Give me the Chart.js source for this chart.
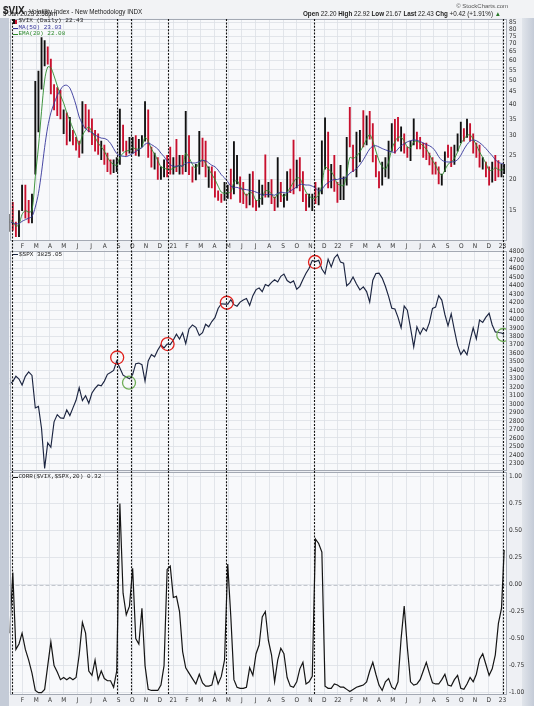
<!DOCTYPE html>
<html><head><meta charset="utf-8">
<script src="https://cdn.jsdelivr.net/npm/chart.js@4.4.0/dist/chart.umd.min.js"></script>
<style>
html,body{margin:0;padding:0;}
body{width:534px;height:706px;position:relative;overflow:hidden;background:#eef0f4;font-family:"Liberation Sans",Arial,sans-serif;}
.blk{position:absolute;}
#hdr{left:0;top:0;width:534px;height:18px;background:#f2f3f5;}
#lstrip{left:0;top:18px;width:9px;height:688px;background:#c4cbd7;}
#rstrip{left:522px;top:18px;width:12px;height:688px;background:linear-gradient(90deg,#e1e5eb,#c4cbd7);}
canvas{position:absolute;left:0;}
.t{position:absolute;white-space:nowrap;line-height:1;color:#222;}
.mono{font-family:"Liberation Mono","DejaVu Sans Mono",monospace;font-size:6px;}
.sw{position:absolute;height:0;border-top:1px solid;width:5px;}
</style></head><body>
<div id="hdr" class="blk"></div>
<div id="lstrip" class="blk"></div>
<div id="rstrip" class="blk"></div>
<canvas id="cA" width="534" height="250" style="top:0px"></canvas>
<canvas id="cB" width="534" height="227" style="top:244px"></canvas>
<canvas id="cC" width="534" height="235" style="top:471px"></canvas>

<div class="t" style="left:3px;top:0.5px;"><b style="font-size:10px;">$VIX</b> <span style="font-size:6.3px;">Volatility Index - New Methodology INDX</span></div>
<div class="t" style="left:3px;top:11px;font-size:6.3px;">5 Jan 2023 2:58pm</div>
<div class="t" style="right:26px;top:3px;font-size:6px;color:#555;">© StockCharts.com</div>
<div class="t" style="right:33px;top:11px;font-size:6.3px;"><b>Open</b> 22.20 <b>High</b> 22.92 <b>Low</b> 21.67 <b>Last</b> 22.43 <b>Chg</b> +0.42 (+1.91%) <span style="color:#2a7a2a">▲</span></div>

<div class="blk" style="left:13px;top:18.5px;width:2px;height:5px;background:#111;"></div>
<div class="blk" style="left:15px;top:19.5px;width:2px;height:4px;background:#c8102e;"></div>
<div class="t mono" style="left:18.5px;top:18px;">$VIX (Daily) 22.43</div>
<div class="sw" style="left:12.5px;top:28px;border-color:#34349a;"></div>
<div class="t mono" style="left:18.5px;top:25.3px;color:#34349a;">MA(50) 23.03</div>
<div class="sw" style="left:12.5px;top:34px;border-color:#2d8a2d;"></div>
<div class="t mono" style="left:18.5px;top:31.3px;color:#2d8a2d;">EMA(20) 22.08</div>
<div class="sw" style="left:12.5px;top:254px;border-color:#1c2541;"></div>
<div class="t mono" style="left:19px;top:251.5px;">$SPX 3825.05</div>
<div class="sw" style="left:12.5px;top:476.5px;border-color:#111;"></div>
<div class="t mono" style="left:18.5px;top:473.7px;">CORR($VIX,$SPX,20) 0.32</div>

<script>
// ---------- DATA ----------
// weekly sessions (Fridays) from 3 Jan 2020, last point 5 Jan 2023
const weekDates = [];
{ const d0 = Date.UTC(2020,0,3); for (let i=0;i<157;i++){ weekDates.push(new Date(d0+i*7*86400000).toISOString().slice(0,10)); } weekDates.push('2023-01-05'); }

const vixHigh = [
14.5,16.2,13.5,15.0,19.0, 19.0,16.5,17.5,49.5, 54.4,74.0,72.0,68.0, 60.7,48.0,46.7,45.6, 38.0,37.0,35.5,31.5,29.5, 28.5,41.0,40.0,38.0, 35.0,31.5,30.5,28.5,27.5, 25.5,24.0,24.0,24.5, 38.3,33.0,28.5,29.5, 29.5,30.0,29.0,30.0,41.0, 38.0,27.0,25.5,24.5, 22.5,24.0,25.0,27.0,24.5,
29.0,25.0,25.0,37.5, 30.0,22.5,23.0,31.2, 29.3,28.5,22.5,22.5, 21.5,18.0,17.5,19.5,19.0, 22.0,28.4,25.0,20.5, 19.5,17.5,21.0,21.5, 16.5,19.9,19.0,25.1,19.5, 20.0,17.0,24.5,19.5, 17.5,21.5,22.0,28.8, 23.9,24.5,21.5,17.5,17.5, 17.5,19.5,18.5,28.6, 35.3,31.0,23.0,25.0,19.5,
22.8,20.5,29.5,38.9, 27.5,31.0,31.5,37.8, 36.0,37.5,33.5,25.0, 21.5,23.5,24.5,28.5,33.5, 34.8,35.5,32.5,30.5, 27.0,28.5,35.0,31.0, 29.5,28.0,28.0,25.5,24.5, 23.5,22.5,21.0,25.8, 27.5,27.0,27.5,30.5,34.0, 32.0,34.9,33.5,30.5, 28.0,27.5,24.5,23.5, 22.5,23.5,25.0,23.8,23.0,
23.0];
const vixLow = [
12.4,12.5,11.8,11.8,15.0, 14.0,13.4,13.4,21.0, 31.0,46.0,57.0,58.0, 44.0,38.0,36.0,35.0, 30.5,27.5,28.5,27.5,26.2, 24.5,25.5,32.0,31.0, 27.6,26.0,25.2,24.0,23.0, 21.5,21.0,21.3,21.5, 23.0,26.0,25.0,25.5, 25.5,25.0,24.8,27.0,28.5, 24.5,22.4,22.0,20.0, 20.0,20.5,20.5,21.0,21.0,
21.5,21.0,21.0,21.5, 20.9,19.5,19.9,21.0, 22.5,20.5,18.6,18.5, 17.0,16.5,16.2,16.5,16.8, 16.7,17.5,19.2,16.2, 16.0,15.4,15.8,15.5, 15.0,15.5,15.9,17.0,17.0, 16.0,15.0,15.5,16.3, 15.5,16.5,17.7,17.5, 18.5,18.0,16.3,15.0,15.5, 15.0,16.0,15.8,17.5, 22.0,18.5,18.5,17.9,16.2,
16.6,16.6,19.0,27.0, 21.5,20.5,23.5,27.0, 27.5,29.0,23.5,20.5, 18.5,19.0,20.5,20.2,26.0, 25.5,28.5,26.0,25.5, 24.5,23.8,27.5,26.5, 26.5,24.5,24.0,22.9,21.0, 21.0,19.2,19.0,21.5, 24.5,22.5,23.0,26.0,28.0, 28.5,29.5,28.5,25.5, 24.5,22.4,22.0,20.5, 19.0,19.5,19.8,20.5,20.5,
21.1];
const vixClose = [
14.0,12.6,12.1,14.6,18.8, 15.5,13.7,17.1,40.1, 41.9,57.8,66.0,65.5, 46.8,41.7,38.2,35.9, 37.2,27.9,31.9,28.2,27.5, 24.5,36.1,35.1,34.7, 27.7,27.3,25.7,25.8,24.5, 22.2,22.1,22.5,22.9, 30.8,26.9,25.8,26.4, 27.6,25.0,27.4,27.6,38.0, 24.9,23.1,23.7,20.8, 20.8,23.3,21.6,21.5,22.8,
21.6,24.3,21.9,33.1, 20.9,20.0,22.1,27.9, 24.7,20.7,21.0,18.9, 17.3,16.7,16.3,17.3,18.6, 16.7,18.8,20.2,16.8, 16.4,15.7,20.7,15.6, 15.1,16.2,18.5,17.2,18.2, 16.2,15.5,18.6,16.4, 16.4,21.0,20.8,17.8, 21.2,18.8,16.3,15.0,16.3, 16.5,16.3,17.9,28.6, 30.7,18.7,21.6,18.0,17.2,
18.8,19.2,28.9,27.7, 23.2,27.4,27.8,27.6, 32.0,30.8,23.9,20.8, 19.6,21.2,22.7,28.2,33.4, 30.2,28.9,29.4,25.7, 24.8,27.8,31.1,27.2, 26.7,24.6,24.2,23.0,21.3, 21.2,19.5,20.6,25.6, 25.5,22.8,26.3,29.9,31.6, 31.4,32.0,29.7,25.8, 24.6,22.5,23.1,20.5, 19.1,22.8,22.6,20.9,21.7,
22.4];
const vixMA50 = [
13.5,13.4,13.3,13.3,13.6, 13.8,14.0,14.2,15.5, 17.6,21.4,26.9,32.5, 37.0,40.3,43.4,45.8, 47.5,47.7,46.5,43.4,39.7, 35.6,33.4,31.9,31.3, 30.8,30.2,29.7,29.3,29.2, 28.8,27.9,26.6,25.4, 24.9,24.8,24.7,25.0, 25.4,25.9,26.4,26.8,27.7, 28.0,27.6,27.1,26.5, 25.5,24.7,23.7,22.9,22.6,
22.6,22.7,22.7,23.2, 23.4,23.3,23.3,23.6, 23.8,23.8,23.3,22.8, 22.5,21.8,20.9,20.3,19.6, 18.8,18.6,18.6,18.4, 18.3,18.2,18.1,18.0, 17.8,17.6,17.3,17.4,17.4, 17.4,17.3,17.6,17.8, 17.7,17.7,18.0,18.3, 18.7,19.1,19.1,19.0,19.0, 18.8,18.5,18.0,18.2, 19.0,19.4,19.8,20.0,20.0,
20.2,20.2,20.5,21.2, 21.6,22.1,22.9,24.0, 25.3,26.5,27.2,27.3, 27.0,26.6,26.3,26.0,25.8, 25.7,26.5,27.3,27.8, 28.3,28.6,28.8,28.7, 28.4,28.0,27.6,27.3,26.8, 25.9,24.7,23.9,23.6, 23.5,23.5,23.6,24.0,25.0, 26.4,27.6,28.5,28.8, 28.6,28.1,27.4,26.6, 25.7,24.9,24.0,23.4,23.2,
23.03];
const vixEMA20 = [
13.8,13.5,13.0,13.2,14.5, 15.0,14.8,15.0,20.5, 27.0,37.5,50.0,56.5, 56.0,52.0,47.5,43.5, 40.5,37.0,34.5,32.0,30.0, 27.5,30.0,31.5,32.5, 31.0,29.5,28.0,27.0,26.0, 24.5,23.5,23.0,22.8, 24.5,25.5,26.0,26.2, 26.8,26.5,26.5,27.0,29.5, 28.5,26.5,25.3,23.8, 22.5,22.2,22.0,21.9,22.2,
22.5,22.8,22.5,25.5, 24.5,23.0,22.2,23.5, 24.0,23.2,22.0,21.0, 20.0,18.8,17.8,17.6,17.7, 17.8,19.5,19.8,18.8, 18.0,17.2,17.8,17.5, 16.5,16.6,17.0,18.0,18.0, 17.5,16.8,17.5,17.5, 17.0,17.8,18.6,19.5, 20.3,20.2,19.0,17.8,17.2, 16.8,16.9,17.3,19.0, 22.5,22.0,21.5,20.5,19.2,
19.0,18.9,21.0,24.5, 24.3,24.8,25.8,27.3, 29.0,30.3,28.5,26.0, 23.8,22.5,22.0,23.5,26.5, 28.3,29.5,29.5,28.5, 27.0,26.8,28.3,28.5, 28.0,27.2,26.5,25.2,23.8, 22.8,21.5,20.8,21.8, 23.0,23.5,24.3,25.8,27.8, 29.0,30.0,30.2,29.0, 27.5,25.8,24.5,23.2, 21.8,21.8,22.3,21.9,21.8,
22.08];
const spxClose = [
3235,3265,3330,3295,3225,3328,3380,3338,2954,2972, 2711,2240,2541,2489,2790,2875,2837,2831,2930,2864,
2955,3044,3194,3041,3098,3009,3130,3185,3225,3216, 3271,3351,3373,3397,3508,3427,3341,3319,3298,3348,
3477,3484,3465,3270,3510,3585,3558,3638,3699,3663, 3709,3703,3756,3825,3768,3841,3714,3887,3934,3907,
3811,3842,3943,3913,3975,4020,4129,4185,4180,4181, 4233,4174,4156,4204,4230,4247,4166,4281,4352,4370,
4327,4412,4395,4437,4468,4442,4509,4535,4459,4433, 4455,4357,4391,4471,4545,4605,4697,4683,4698,4595,
4538,4712,4620,4726,4766,4677,4663,4398,4432,4500, 4419,4349,4385,4329,4204,4463,4543,4546,4488,4392,
4272,4132,4123,4024,3901,4158,4109,3901,3675,3912, 3825,3899,3863,3962,4130,4145,4280,4228,4058,3924,
4067,3873,3693,3586,3640,3583,3753,3901,3771,3993, 3965,4026,4072,3934,3852,3845,3840,3825];
const corr20 = [
-0.45,0.11,-0.60,-0.55,-0.45,-0.60,-0.70,-0.82,-0.98,-1.00,
-1.00,-0.97,-0.75,-0.53,-0.75,-0.81,-0.88,-0.86,-0.88,-0.86,
-0.88,-0.86,-0.65,-0.35,-0.45,-0.80,-0.84,-0.70,-0.88,-0.80,
-0.87,-0.89,-0.89,-0.95,-0.80,0.75,-0.08,-0.28,-0.20,0.15,
-0.50,-0.55,-0.22,-0.75,-0.97,-0.98,-0.98,-0.98,-0.93,-0.75,
0.14,0.17,-0.12,-0.11,-0.25,-0.62,-0.77,-0.82,-0.87,-0.92,
-0.83,-0.91,-0.94,-0.94,-0.93,-0.81,-0.92,-0.85,-0.70,0.19,
-0.30,-0.88,-0.95,-0.96,-0.96,-0.95,-0.77,-0.84,-0.64,-0.56,
-0.30,-0.25,-0.52,-0.65,-0.90,-0.70,-0.59,-0.64,-0.86,-0.94,
-0.95,-0.90,-0.78,-0.72,-0.92,-0.90,-0.85,0.42,0.38,0.30,
-0.94,-0.96,-0.96,-0.92,-0.93,-0.95,-0.95,-0.97,-0.99,-0.97,
-0.95,-0.94,-0.93,-0.90,-0.80,-0.72,-0.83,-0.93,-0.98,-0.90,
-0.87,-0.95,-0.97,-0.90,-0.50,-0.20,-0.58,-0.90,-0.93,-0.92,
-0.88,-0.80,-0.72,-0.82,-0.91,-0.92,-0.92,-0.88,-0.83,-0.93,
-0.94,-0.88,-0.84,-0.96,-0.97,-0.92,-0.86,-0.90,-0.83,-0.69,
-0.64,-0.74,-0.84,-0.78,-0.65,-0.36,-0.22,0.32];

const markerDates = ['2020-01-09','2020-08-28','2020-09-28','2020-12-20','2021-04-27','2021-11-08','2023-01-02'];
const redCircleDates = ['2020-08-29','2020-12-19','2021-04-28','2021-11-11'];
const redCircleValues = [3550,3709,4197,4678];
const greenCircleDates = ['2020-09-24','2023-01-03'];
const greenCircleValues = [3252,3816];

const monthTickValues = Array.from({length:36},(_,i)=>i+1);
const monthLabels = ['F','M','A','M','J','J','A','S','O','N','D','21','F','M','A','M','J','J','A','S','O','N','D','22','F','M','A','M','J','J','A','S','O','N','D','23'];
const vixTicks = [15,20,25,30,35,40,45,50,55,60,65,70,75,80,85];
const vixTickLabels = ['15','20','25','30','35','40','45','50','55','60','65','70','75','80','85'];
const spxTicks = [2300,2400,2500,2600,2700,2800,2900,3000,3100,3200,3300,3400,3500,3600,3700,3800,3900,4000,4100,4200,4300,4400,4500,4600,4700,4800];
const spxTickLabels = spxTicks.map(String);
const corrTicks = [-1,-0.75,-0.5,-0.25,0,0.25,0.5,0.75,1];
const corrTickLabels = ['-1.00','-0.75','-0.50','-0.25','0.00','0.25','0.50','0.75','1.00'];

// ---------- HELPERS ----------
function toM(s){const p=s.split('-').map(Number);const dim=new Date(p[0],p[1],0).getDate();return (p[0]-2020)*12+(p[1]-1)+(p[2]-1)/dim;}
const xs = weekDates.map(toM);
const X_MIN = 0.05, X_MAX = 36.3;
const AXFONT = {family:'"Liberation Sans Narrow","DejaVu Sans Condensed","Liberation Sans",sans-serif', size:6.5};
const GRID = '#dcdfe6';

function xScale(show){return {type:'linear',min:X_MIN,max:X_MAX,offset:false,bounds:'data',
  afterBuildTicks:s=>{s.ticks=monthTickValues.map(v=>({value:v}));},
  afterFit:s=>{s.height=show?9:0;s.paddingLeft=0;s.paddingRight=0;s.paddingTop=0;s.paddingBottom=0;},
  ticks:{display:show,autoSkip:false,maxRotation:0,minRotation:0,padding:1.5,font:AXFONT,color:'#333',callback:(v,i)=>monthLabels[i]},
  grid:{color:GRID,lineWidth:0.8,drawTicks:false,offset:false},border:{display:false}};}
function yScale(type,min,max,ticks,labels){return {type,position:'right',min,max,bounds:'data',
  afterBuildTicks:s=>{s.ticks=ticks.map(v=>({value:v}));},
  afterFit:s=>{s.width=27.5;s.paddingTop=0;s.paddingBottom=0;s.paddingLeft=0;s.paddingRight=0;},
  ticks:{autoSkip:false,padding:2.5,font:AXFONT,color:'#333',callback:(v,i)=>labels[i]},
  grid:{color:GRID,lineWidth:0.8,drawTicks:false},border:{display:false}};}

function panelPlugin(opt){return {id:'panel'+Math.random().toString(36).slice(2),
  beforeDraw(ch){const {ctx,chartArea:a}=ch;ctx.save();ctx.fillStyle='#f8f9fb';ctx.fillRect(a.left,a.top,a.right-a.left,a.bottom-a.top);ctx.restore();},
  beforeDatasetsDraw(ch){ if(!opt.zero) return; const {ctx,chartArea:a,scales}=ch; const y=Math.round(scales.y.getPixelForValue(0))+0.5;
    ctx.save();ctx.strokeStyle='#c3c7ce';ctx.lineWidth=1;ctx.setLineDash([4,2]);ctx.beginPath();ctx.moveTo(a.left,y);ctx.lineTo(a.right,y);ctx.stroke();ctx.restore();},
  afterDraw(ch){const {ctx,chartArea:a,scales}=ch;ctx.save();
    ctx.strokeStyle='#a4a9b3';ctx.lineWidth=1;ctx.strokeRect(Math.round(a.left)+0.5,Math.round(a.top)+0.5,Math.round(a.right-a.left)-1,Math.round(a.bottom-a.top)-1);
    ctx.strokeStyle='#111';ctx.lineWidth=1.1;ctx.setLineDash([2,1.4]);
    const y0=opt.y0(ch), y1=opt.y1(ch);
    markerDates.forEach(d=>{const x=Math.round(scales.x.getPixelForValue(toM(d)))+0.5;ctx.beginPath();ctx.moveTo(x,y0);ctx.lineTo(x,y1);ctx.stroke();});
    ctx.restore();}};}

const common = {animation:false,responsive:false,devicePixelRatio:1,events:[],
  plugins:{legend:{display:false},tooltip:{enabled:false}}};

// ---------- TOP: VIX ----------
const barColors = vixClose.map((c,i)=> (i>0 && c<vixClose[i-1]) ? '#c8102e' : '#111111');
new Chart(document.getElementById('cA'),{
  type:'line',
  data:{datasets:[
    {type:'bar',data:xs.map((x,i)=>({x,y:[vixLow[i],vixHigh[i]]})),backgroundColor:barColors,barThickness:1.2,borderWidth:0,order:3},
    {type:'line',data:xs.map((x,i)=>({x,y:vixMA50[i]})),borderColor:'#34349a',borderWidth:0.9,pointRadius:0,tension:0.3,order:1},
    {type:'line',data:xs.map((x,i)=>({x,y:vixEMA20[i]})),borderColor:'#2d8a2d',borderWidth:0.9,pointRadius:0,tension:0.3,order:2}
  ]},
  options:Object.assign({},common,{layout:{autoPadding:false,padding:{left:9.5,right:0,top:19,bottom:0}},
    scales:{x:xScale(true),y:yScale('logarithmic',11.34,87.9,vixTicks,vixTickLabels)}}),
  plugins:[panelPlugin({y0:ch=>ch.chartArea.top,y1:ch=>ch.height})]
});

// ---------- MIDDLE: SPX ----------
new Chart(document.getElementById('cB'),{
  type:'line',
  data:{datasets:[
    {data:xs.map((x,i)=>({x,y:spxClose[i]})),borderColor:'#1c2541',borderWidth:1.15,pointRadius:0,tension:0,order:2},
    {data:redCircleDates.map((d,i)=>({x:toM(d),y:redCircleValues[i]})),showLine:false,pointRadius:6.5,pointBorderWidth:1.3,pointBorderColor:'#e0201c',pointBackgroundColor:'rgba(0,0,0,0)',order:1},
    {data:greenCircleDates.map((d,i)=>({x:toM(d),y:greenCircleValues[i]})),showLine:false,pointRadius:6.5,pointBorderWidth:1.3,pointBorderColor:'#6fae57',pointBackgroundColor:'rgba(0,0,0,0)',order:1}
  ]},
  options:Object.assign({},common,{layout:{autoPadding:false,padding:{left:9.5,right:0,top:6.5,bottom:0.5}},
    scales:{x:xScale(false),y:yScale('linear',2215,4814,spxTicks,spxTickLabels)}}),
  plugins:[panelPlugin({y0:ch=>ch.chartArea.top,y1:ch=>ch.height})]
});

// ---------- BOTTOM: CORR ----------
new Chart(document.getElementById('cC'),{
  type:'line',
  data:{datasets:[
    {data:xs.map((x,i)=>({x,y:corr20[i]})),borderColor:'#151515',borderWidth:1.2,pointRadius:0,tension:0}
  ]},
  options:Object.assign({},common,{layout:{autoPadding:false,padding:{left:9.5,right:0,top:1,bottom:2}},
    scales:{x:xScale(true),y:yScale('linear',-1.022,1.041,corrTicks,corrTickLabels)}}),
  plugins:[panelPlugin({zero:true,y0:ch=>0,y1:ch=>ch.chartArea.bottom})]
});
</script>
</body></html>
